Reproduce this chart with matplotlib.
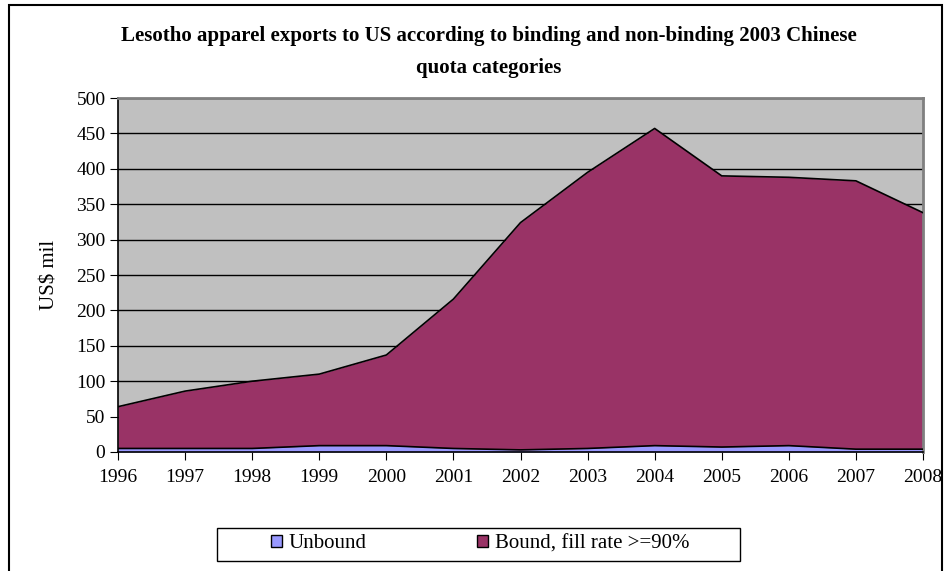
import numpy as np
import matplotlib.pyplot as plt
from matplotlib.patches import Rectangle

plt.rcParams['font.family'] = ['Liberation Serif', 'DejaVu Serif']

years = [1996, 1997, 1998, 1999, 2000, 2001, 2002, 2003, 2004, 2005, 2006, 2007, 2008]
# US$ mil, stacked: unbound at the bottom, bound on top
unbound = [5, 5, 5, 9, 9, 5, 3, 5, 9, 7, 9, 4, 4]
bound = [59, 81, 95, 101, 128, 211, 321, 390, 448, 383, 379, 379, 334]

fig = plt.figure(figsize=(9.5, 5.71), dpi=100)
ax = fig.add_axes([118 / 950, 1 - 452 / 571, (923 - 118) / 950, (452 - 98) / 571])

x = np.array(years)
lower = np.array(unbound)
upper = lower + np.array(bound)

ax.set_facecolor('#C0C0C0')
ax.fill_between(x, 0, lower, color='#9999FF', lw=0, zorder=2)
ax.fill_between(x, lower, upper, color='#993366', lw=0, zorder=2)
ax.plot(x, lower, color='black', lw=1.2, zorder=3)
ax.plot(x, upper, color='black', lw=1.2, zorder=3)

ax.set_xlim(1996, 2008)
ax.set_ylim(0, 500)
ax.set_xticks(years)
ax.set_yticks(range(0, 501, 50))
ax.yaxis.grid(True, color='black', lw=1)
ax.set_axisbelow(True)
ax.tick_params(labelsize=14, length=6, color='black', direction='out')
ax.tick_params(axis='x', pad=6)
ax.tick_params(axis='y', pad=3)

for s in ['top', 'right']:
    ax.spines[s].set_color('#808080')
    ax.spines[s].set_linewidth(2)
for s in ['left', 'bottom']:
    ax.spines[s].set_color('black')
    ax.spines[s].set_linewidth(1.2)

ax.set_ylabel('US$ mil', fontsize=15, labelpad=12)

fig.text(489 / 950, 1 - 52 / 571,
         'Lesotho apparel exports to US according to binding and non-binding 2003 Chinese\nquota categories',
         ha='center', va='center', fontsize=15, fontweight='bold', linespacing=1.75)

# legend: entries without frame, plus a plain box around them
handles = [Rectangle((0, 0), 1, 1, fc='#9999FF', ec='black', lw=1),
           Rectangle((0, 0), 1, 1, fc='#993366', ec='black', lw=1)]
leg = fig.legend(handles, ['Unbound', 'Bound, fill rate >=90%'], ncol=2,
                 loc='center', bbox_to_anchor=(480 / 950, 1 - 544 / 571),
                 fontsize=15, frameon=False,
                 handlelength=0.55, handleheight=0.55, handletextpad=0.3,
                 columnspacing=5.3, borderpad=0)
fig.patches.append(Rectangle((217 / 950, 1 - 561 / 571), (740 - 217) / 950, 33 / 571,
                             transform=fig.transFigure, fill=False, ec='black', lw=1))

# outer chart frame
fig.patches.append(Rectangle((9 / 950, -0.01), (942 - 9) / 950, 1 - 5 / 571 + 0.01,
                             transform=fig.transFigure, fill=False, ec='black', lw=1.5))

fig.savefig('out.png', dpi=100)
